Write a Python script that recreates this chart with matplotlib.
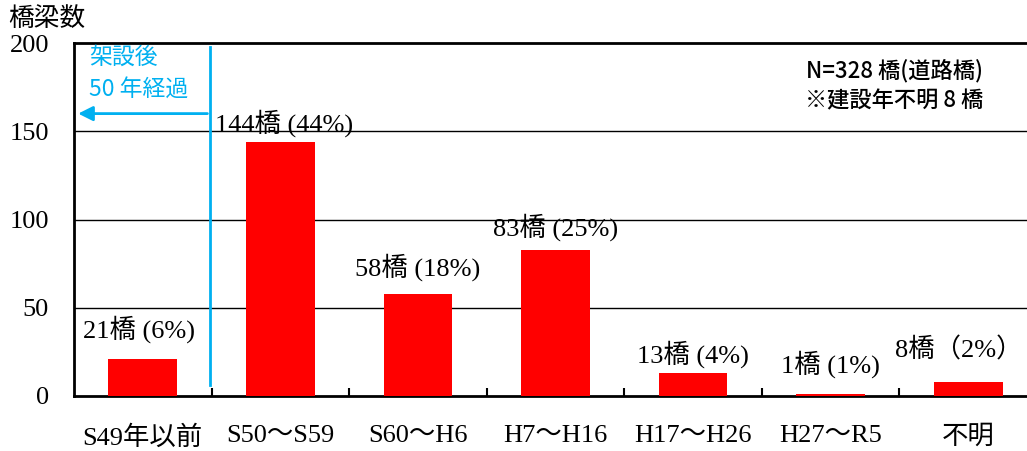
import matplotlib
matplotlib.use('Agg')
from matplotlib import pyplot as plt

plt.rcParams['font.family'] = ['Liberation Serif', 'Noto Sans CJK JP', 'DejaVu Sans']

# データ（建設年度別の橋梁数）
categories: list = ['S49年以前', 'S50〜S59', 'S60〜H6', 'H7〜H16', 'H17〜H26', 'H27〜R5', '不明']
counts: list = [21, 144, 58, 83, 13, 1, 8]
bar_labels: list = ['21橋 (6%)', '144橋 (44%)', '58橋 (18%)', '83橋 (25%)',
                    '13橋 (4%)', '1橋 (1%)', '8橋（2%）']
y_ticks: list = [0, 50, 100, 150, 200]

# ラベルのずらし量（ピクセル, 横・縦）
label_dx: list = [-4, 4, 0, 0, 0, 0, -9]
label_dy: list = [30, 19, 26, 22, 19, 30, 32]

CYAN = '#00B0F0'
W, H = 1027, 451

fig = plt.figure(figsize=(W / 100, H / 100), dpi=100)
# 右端は画像の外にはみ出している
ax = fig.add_axes([74 / W, 55 / H, 963 / W, 353 / H])

x = list(range(len(categories)))
ax.bar(x, counts, width=0.5, color='#FF0000', zorder=3)

ax.set_xlim(-0.5, len(categories) - 0.5)
ax.set_ylim(0, 200)
ax.set_yticks(y_ticks)
ax.tick_params(axis='y', length=0, pad=18, labelsize=19)

# 区切りの目盛り（内向き）を主目盛、項目名を副目盛に
ax.set_xticks([i + 0.5 for i in x[:-1]])
ax.set_xticklabels([])
ax.tick_params(axis='x', which='major', direction='in', length=6, width=1.5)
ax.set_xticks(x, minor=True)
ax.set_xticklabels(categories, minor=True)
ax.tick_params(axis='x', which='minor', length=0, pad=21, labelsize=19)

for yv in y_ticks[1:-1]:
    ax.axhline(yv, color='black', lw=1, zorder=1)

for side in ['left', 'bottom', 'top']:
    ax.spines[side].set_linewidth(2)
ax.spines['right'].set_visible(False)

for i, (v, lab) in enumerate(zip(counts, bar_labels)):
    ax.annotate(lab, (i, v), xytext=(label_dx[i], label_dy[i]), textcoords='offset pixels',
                ha='center', va='center', fontsize=19, zorder=4)

# 架設後50年経過の線と矢印
ax.plot([0.49, 0.49], [6, 198], color=CYAN, lw=2, zorder=4)
ax.annotate('', xy=(-0.49, 160), xytext=(0.49, 160),
            arrowprops=dict(arrowstyle='-|>', color=CYAN, lw=2, mutation_scale=22), zorder=4)
ax.text(-0.39, 192, '架設後', color=CYAN, fontsize=16.5, family=['Noto Sans CJK JP'],
        va='center', ha='left', zorder=5)
ax.text(-0.39, 174, '50 年経過', color=CYAN, fontsize=16.5, family=['Noto Sans CJK JP'],
        va='center', ha='left', zorder=5)

ax.text(0.76, 0.921, 'N=328 橋(道路橋)', transform=ax.transAxes, fontsize=16,
        fontweight='medium', family=['Noto Sans CJK JP'], va='center', ha='left')
ax.text(0.759, 0.836, '※建設年不明 8 橋', transform=ax.transAxes, fontsize=16,
        fontweight='medium', family=['Noto Sans CJK JP'], va='center', ha='left')

fig.text(8 / W, 1 - 19 / H, '橋梁数', fontsize=18.5, va='center', ha='left')

fig.savefig('out.png', dpi=100)
